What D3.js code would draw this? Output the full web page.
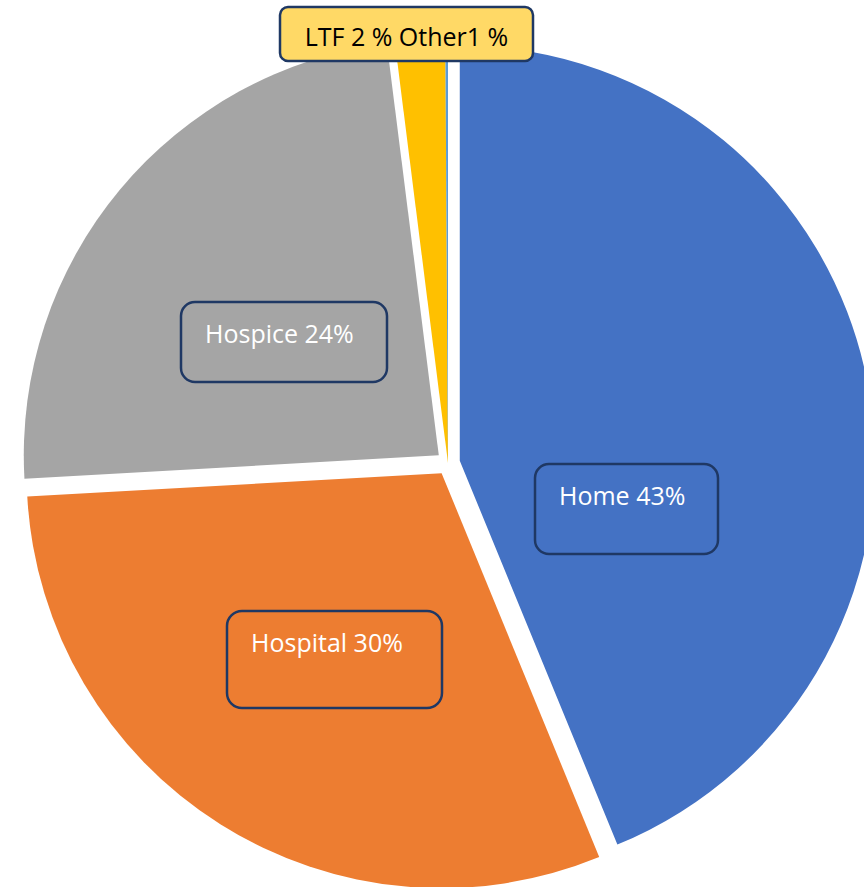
<!DOCTYPE html>
<html>
<head>
<meta charset="utf-8">
<script src="https://cdn.jsdelivr.net/npm/d3@7"></script>
<style>
  html, body { margin: 0; padding: 0; background: #fff; }
  svg { display: block; }
  .lbl text { font-family: "Open Sans", sans-serif; font-size: 25px; }
</style>
</head>
<body>
<svg id="chart" width="864" height="887"></svg>
<script>
// place of death shares
const categories = ["Home", "Hospital", "Hospice", "LTF", "Other"];
const values = [43.8, 30.3, 23.9, 1.9, 0.1];
const colors = ["#4472C4", "#ED7D31", "#A5A5A5", "#FFC000", "#5B9BD5"];
const explode = [12, 12, 12, 0, 0];

// data label boxes (text + box position)
const labelTexts = ["Home 43%", "Hospital 30%", "Hospice 24%", "LTF 2 % Other1 %"];
const labelFill = ["none", "none", "none", "#FFD966"];
const labelInk = ["#fff", "#fff", "#fff", "#000"];
const labelBoxes = [
    { x: 535, y: 464, w: 183, h: 90, r: 14 },
    { x: 227, y: 611, w: 215, h: 97, r: 15 },
    { x: 181, y: 302, w: 206, h: 80, r: 14 },
    { x: 280, y: 7, w: 253, h: 54, r: 8 }
];

const svg = d3.select("#chart");
const cx = 448, cy = 463, radius = 415;

const pie = d3.pie().sort(null).value(d => d.value);
const arc = d3.arc().innerRadius(0).outerRadius(radius);

const data = categories.map((c, i) => ({ name: c, value: values[i], i }));

const g = svg.append("g").attr("transform", `translate(${cx},${cy})`);

g.selectAll("path")
    .data(pie(data))
    .enter().append("path")
    .attr("d", arc)
    .attr("fill", d => colors[d.data.i])
    .attr("transform", d => {
        const mid = (d.startAngle + d.endAngle) / 2;
        const e = explode[d.data.i];
        return `translate(${e * Math.sin(mid)},${-e * Math.cos(mid)})`;
    });

const lbl = svg.selectAll("g.lbl")
    .data(labelTexts)
    .enter().append("g")
    .attr("class", "lbl");

lbl.append("rect")
    .attr("x", (d, i) => labelBoxes[i].x)
    .attr("y", (d, i) => labelBoxes[i].y)
    .attr("width", (d, i) => labelBoxes[i].w)
    .attr("height", (d, i) => labelBoxes[i].h)
    .attr("rx", (d, i) => labelBoxes[i].r)
    .attr("fill", (d, i) => labelFill[i])
    .attr("stroke", "#1F3864")
    .attr("stroke-width", 2.5);

// text sits near the top left of each box, like the original
lbl.append("text")
    .attr("x", (d, i) => i === 3 ? labelBoxes[i].x + labelBoxes[i].w / 2 : labelBoxes[i].x + 24)
    .attr("y", (d, i) => i === 3 ? labelBoxes[i].y + 39 : labelBoxes[i].y + 41)
    .attr("text-anchor", (d, i) => i === 3 ? "middle" : "start")
    .attr("fill", (d, i) => labelInk[i])
    .text(d => d);
</script>
</body>
</html>
